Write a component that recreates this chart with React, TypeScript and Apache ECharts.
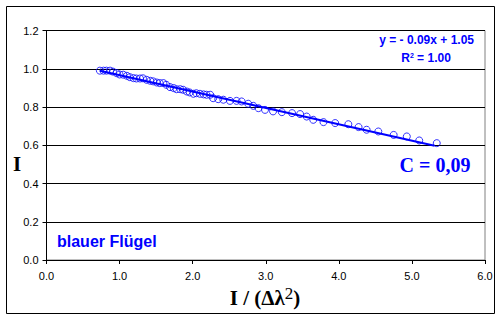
import React, { useEffect, useRef } from "react";
import * as echarts from "echarts";

const xValues = [
  0.73, 0.78, 0.82, 0.87, 0.91, 0.96, 1.0, 1.05, 1.1, 1.14, 1.19, 1.23, 1.28, 1.32, 1.37, 1.42, 1.46, 1.51,
  1.55, 1.6, 1.64, 1.69, 1.74, 1.78, 1.83, 1.87, 1.92, 1.96, 2.01, 2.05, 2.1, 2.15, 2.19, 2.24, 2.28, 2.35,
  2.42, 2.51, 2.6, 2.67, 2.76, 2.83, 2.9, 2.99, 3.1, 3.22, 3.36, 3.47, 3.56, 3.65, 3.79, 3.95, 4.13, 4.27,
  4.38, 4.54, 4.75, 4.93, 5.1, 5.34,
];
const yValues = [
  0.99, 0.99, 0.99, 0.99, 0.985, 0.977, 0.97, 0.969, 0.963, 0.956, 0.951, 0.949, 0.949, 0.95, 0.942, 0.937,
  0.934, 0.928, 0.925, 0.925, 0.916, 0.904, 0.899, 0.893, 0.893, 0.89, 0.881, 0.876, 0.869, 0.872, 0.869,
  0.866, 0.864, 0.864, 0.846, 0.841, 0.838, 0.832, 0.832, 0.829, 0.817, 0.806, 0.794, 0.785, 0.777, 0.773,
  0.768, 0.763, 0.75, 0.733, 0.721, 0.716, 0.71, 0.695, 0.681, 0.672, 0.654, 0.646, 0.625, 0.611,
];
const trendSlope = -0.0856;
const trendIntercept = 1.052;
const equationText = "y = - 0.09x + 1.05";
const r2Text = "= 1.00";
const constantText = "C = 0,09";
const wingText = "blauer Flügel";

const SANS = "'Liberation Sans', Arial, sans-serif";
const SERIF = "'Liberation Serif', 'Times New Roman', serif";
const BLUE = "#0000FF";

export default function App() {
  const ref = useRef<HTMLDivElement>(null);
  useEffect(() => {
    if (!ref.current) return;
    const chart = echarts.init(ref.current, null, { renderer: "svg" });
    const points = xValues.map((x, i) => [x, yValues[i]]);
    const xMin = xValues[0];
    const xMax = xValues[xValues.length - 1] - 0.03;
    const trend = [
      [xMin, trendSlope * xMin + trendIntercept],
      [xMax, trendSlope * xMax + trendIntercept],
    ];
    chart.setOption({
      animation: false,
      backgroundColor: "#ffffff",
      grid: {
        left: 46.5,
        top: 30.5,
        right: 17,
        bottom: 60,
        show: true,
        borderColor: "#808080",
        borderWidth: 1,
        backgroundColor: "transparent",
      },
      xAxis: {
        type: "value",
        min: 0,
        max: 6,
        interval: 1,
        axisLine: { show: true, lineStyle: { color: "#000", width: 1 } },
        axisTick: { show: true, length: 4, lineStyle: { color: "#000" } },
        splitLine: { show: false },
        axisLabel: {
          color: "#000",
          fontFamily: SANS,
          fontSize: 11,
          margin: 10,
          formatter: (v: number) => v.toFixed(1),
        },
      },
      yAxis: {
        type: "value",
        min: 0,
        max: 1.2,
        interval: 0.2,
        axisLine: { show: true, lineStyle: { color: "#000", width: 1 } },
        axisTick: { show: true, length: 4, lineStyle: { color: "#000" } },
        splitLine: { show: true, lineStyle: { color: "#000", width: 1 } },
        axisLabel: {
          color: "#000",
          fontFamily: SANS,
          fontSize: 11,
          margin: 8,
          formatter: (v: number) => v.toFixed(1),
        },
      },
      series: [
        {
          type: "line",
          data: trend,
          symbol: "none",
          lineStyle: { color: BLUE, width: 2 },
          z: 2,
        },
        {
          type: "scatter",
          data: points,
          symbol: "circle",
          symbolSize: 7,
          itemStyle: { color: "transparent", borderColor: BLUE, borderWidth: 1 },
          z: 3,
        },
      ],
      graphic: [
        {
          type: "rect",
          shape: { x: 6.5, y: 6.5, width: 488, height: 307 },
          style: { fill: "none", stroke: "#000", lineWidth: 1 },
          silent: true,
        },
        {
          type: "text",
          x: 474,
          y: 40,
          style: {
            text: equationText,
            fill: BLUE,
            font: `bold 12px ${SANS}`,
            align: "right",
            verticalAlign: "middle",
          },
        },
        {
          type: "text",
          x: 426,
          y: 58,
          style: {
            text: "{r|R}{s|2} {r|" + r2Text + "}",
            rich: {
              r: { fill: BLUE, font: `bold 12px ${SANS}` },
              s: { fill: BLUE, font: `bold 7px ${SANS}`, verticalAlign: "top", padding: [0, 0, 6, 0] },
            },
            align: "center",
            verticalAlign: "middle",
          },
        },
        {
          type: "text",
          x: 435,
          y: 165,
          style: {
            text: constantText,
            fill: BLUE,
            font: `bold 20px ${SERIF}`,
            align: "center",
            verticalAlign: "middle",
          },
        },
        {
          type: "text",
          x: 57,
          y: 241,
          style: {
            text: wingText,
            fill: BLUE,
            font: `bold 16px ${SANS}`,
            align: "left",
            verticalAlign: "middle",
          },
        },
        {
          type: "text",
          x: 17,
          y: 164,
          style: {
            text: "I",
            fill: "#000",
            font: `bold 21px ${SERIF}`,
            align: "center",
            verticalAlign: "middle",
          },
        },
        {
          type: "text",
          x: 265,
          y: 298,
          style: {
            text: "{a|I / (Δλ}{b|2}{a|)}",
            rich: {
              a: { fill: "#000", font: `bold 21px ${SERIF}` },
              b: { fill: "#000", font: `17px ${SERIF}`, padding: [0, 0, 9, 0] },
            },
            align: "center",
            verticalAlign: "middle",
          },
        },
      ],
    });
    return () => chart.dispose();
  }, []);
  return (
    <div
      ref={ref}
      style={{ position: "fixed", left: 0, top: 0, width: 502, height: 320, background: "#fff" }}
    />
  );
}
